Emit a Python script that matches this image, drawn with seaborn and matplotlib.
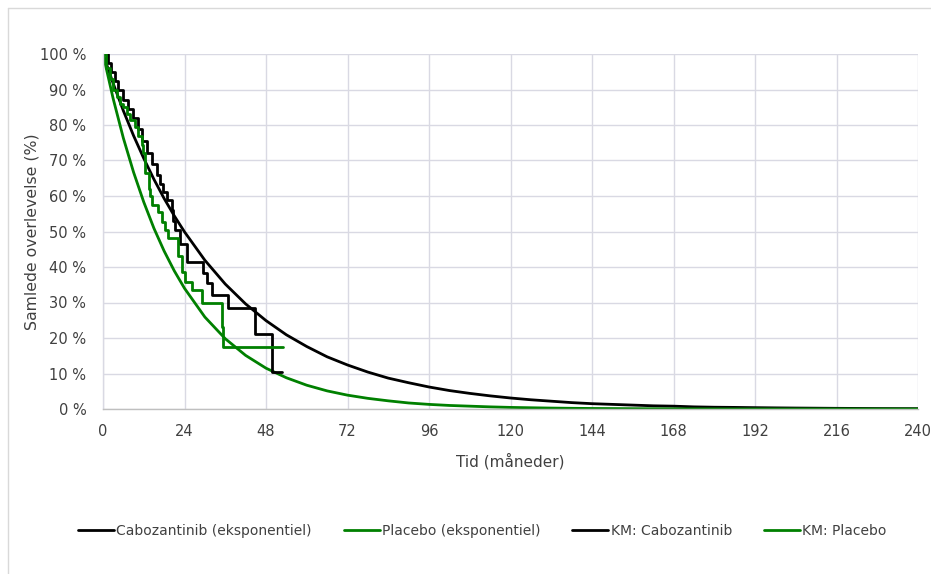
import numpy as np
import pandas as pd
import matplotlib
matplotlib.use("Agg")
import matplotlib.pyplot as plt
import seaborn as sns
from matplotlib.lines import Line2D

# ---- data ----
exp_months = [0, 3, 6, 9, 12, 15, 18, 21, 24, 30, 36, 42, 48, 54, 60, 66, 72, 78, 84, 90,
              96, 102, 108, 114, 120, 126, 132, 138, 144, 150, 156, 162, 168, 174, 180,
              186, 192, 198, 204, 210, 216, 222, 228, 234, 240]
cabo_exp = [100, 91.7, 84.0, 77.0, 70.6, 64.7, 59.3, 54.4, 49.9, 41.9, 35.2, 29.6, 24.9, 20.9,
            17.6, 14.7, 12.4, 10.4, 8.7, 7.4, 6.2, 5.2, 4.4, 3.7, 3.1, 2.6, 2.2, 1.8, 1.5, 1.3,
            1.1, 0.9, 0.8, 0.6, 0.5, 0.45, 0.38, 0.32, 0.27, 0.23, 0.19, 0.16, 0.13, 0.11, 0.1]
placebo_exp = [100, 87.4, 76.3, 66.7, 58.3, 50.9, 44.5, 38.9, 34.0, 25.9, 19.8, 15.1, 11.5, 8.8,
               6.7, 5.1, 3.9, 3.0, 2.3, 1.7, 1.3, 1.0, 0.8, 0.6, 0.45, 0.35, 0.26, 0.2, 0.15,
               0.12, 0.09, 0.07, 0.05, 0.04, 0.03, 0.02, 0.02, 0.01, 0.01, 0.01, 0.01, 0.0,
               0.0, 0.0, 0.0]

km_cabo_t = [0, 1.5, 2.5, 3.4, 4.4, 5.9, 7.4, 8.8, 10.3, 11.4, 12.9, 14.5, 16.0, 16.8, 17.8,
             18.8, 20.2, 20.7, 21.2, 22.7, 24.6, 29.5, 30.5, 32.0, 36.9, 44.7, 49.7, 52.6]
km_cabo_s = [100, 97.5, 95, 92.5, 90, 87, 84.5, 82, 79, 75.5, 72, 69, 66, 63.5, 61,
             59, 56, 53, 50.5, 46.5, 41.5, 38.2, 35.4, 32.1, 28.4, 21.1, 10.5, 10.5]

km_plac_t = [0, 1, 2, 3, 4, 5, 6, 7, 8, 9.4, 10.4, 11.4, 11.9, 12.4, 13.4, 13.8, 14.3, 16.3,
             17.3, 18.3, 19.2, 22.2, 23.2, 24.1, 26.1, 29.1, 34.9, 35.4, 53.1]
km_plac_s = [100, 96, 93, 90, 88, 86, 85, 83, 81.5, 79.5, 77, 74.5, 72, 66.5, 62, 60, 57.5,
             55.5, 52.8, 50.4, 48.1, 43, 38.5, 35.9, 33.5, 29.8, 23.2, 17.5, 17.5]

x_ticks = [0, 24, 48, 72, 96, 120, 144, 168, 192, 216, 240]
y_ticks = [0, 10, 20, 30, 40, 50, 60, 70, 80, 90, 100]
y_ticklabels = [f"{v} %" for v in y_ticks]

labels = ["Cabozantinib (eksponentiel)", "Placebo (eksponentiel)",
          "KM: Cabozantinib", "KM: Placebo"]

# ---- styling ----
sns.set_theme(style="white")
plt.rcParams["font.family"] = ["DejaVu Sans"]
text_col = "#404040"
grid_col = "#d9d9e3"
black = "#000000"
green = "#008000"
lw = 2.0

fig = plt.figure(figsize=(9.31, 5.74), dpi=100)
W, H = 931, 574
ax = fig.add_axes([103 / W, 1 - 409 / H, 815 / W, 355 / H])

df_exp = pd.DataFrame({"t": exp_months, "cabo": cabo_exp, "plac": placebo_exp})
df_kc = pd.DataFrame({"t": km_cabo_t, "s": km_cabo_s})
df_kp = pd.DataFrame({"t": km_plac_t, "s": km_plac_s})

sns.lineplot(data=df_exp, x="t", y="cabo", ax=ax, color=black, lw=lw, estimator=None)
sns.lineplot(data=df_exp, x="t", y="plac", ax=ax, color=green, lw=lw, estimator=None)
sns.lineplot(data=df_kc, x="t", y="s", ax=ax, color=black, lw=lw, estimator=None,
             drawstyle="steps-post")
sns.lineplot(data=df_kp, x="t", y="s", ax=ax, color=green, lw=lw, estimator=None,
             drawstyle="steps-post")

ax.set_xlim(0, 240)
ax.set_ylim(0, 100)
ax.set_xticks(x_ticks)
ax.set_xticklabels([str(v) for v in x_ticks])
ax.set_yticks(y_ticks)
ax.set_yticklabels(y_ticklabels)
ax.grid(True, color=grid_col, lw=1.0)
ax.set_axisbelow(True)
for side in ["top", "right"]:
    ax.spines[side].set_visible(False)
ax.spines["left"].set_color(grid_col)
ax.spines["bottom"].set_color("#bfbfbf")
ax.spines["left"].set_linewidth(1.0)
ax.spines["bottom"].set_linewidth(1.0)
ax.tick_params(axis="y", length=0, labelsize=10.5, colors=text_col, pad=12)
ax.tick_params(axis="x", length=0, labelsize=10.5, colors=text_col, pad=11)
ax.set_xlabel("Tid (måneder)", fontsize=11, color=text_col, labelpad=10)
ax.set_ylabel("Samlede overlevelse (%)", fontsize=11.3, color=text_col)
ax.yaxis.set_label_coords(-0.078, 0.5)

handles = [Line2D([], [], color=c, lw=lw) for c in [black, green, black, green]]
leg = fig.legend(handles, labels, loc="center", bbox_to_anchor=(0.518, 1 - 531 / H),
                 ncol=4, frameon=False, fontsize=10, handlelength=2.6,
                 handletextpad=0.15, columnspacing=2.3)
for t in leg.get_texts():
    t.set_color(text_col)

# outer chart border
fig.add_artist(Line2D([8 / W, 8 / W], [0, 1 - 8 / H], transform=fig.transFigure,
                      color="#d9d9d9", lw=1))
fig.add_artist(Line2D([8 / W, 1], [1 - 8 / H, 1 - 8 / H], transform=fig.transFigure,
                      color="#d9d9d9", lw=1))

fig.savefig("out.png", dpi=100)
